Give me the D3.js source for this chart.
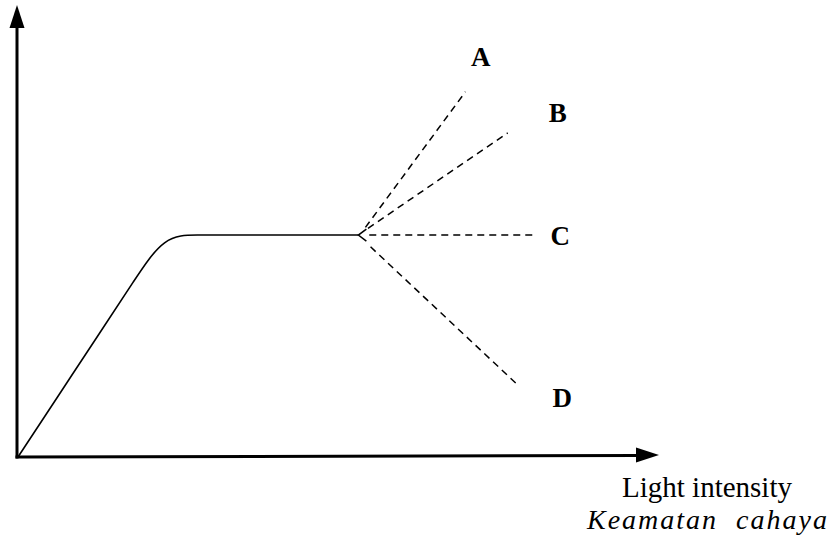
<!DOCTYPE html>
<html>
<head>
<meta charset="utf-8">
<script src="https://cdn.jsdelivr.net/npm/d3@7"></script>
<style>
  html, body { margin: 0; padding: 0; background: #fff; }
  svg { display: block; }
</style>
</head>
<body>
<svg id="chart"></svg>
<script>
// rate curve control points (light, rate) on a 0..100 scale
const curveLight = [0, 6, 13, 18, 22.8, 28, 33, 53.1];
const curveRate  = [0, 12.92, 28, 38.75, 49.1, 49.1, 49.1, 49.1];

// branches leaving the plateau end
const branchNames = ['A', 'B', 'C', 'D'];
const branchStartLight = [54.2, 54.6, 54.8, 55.0];
const branchStartRate  = [50.8, 50.6, 49.1, 46.5];
const branchEndLight   = [69.8, 76.4, 80.8, 78.0];
const branchEndRate    = [80.8, 71.7, 49.1, 15.9];
const labelLight = [72.2, 84.2, 84.6, 84.9];
const labelRate  = [86.5, 74.1, 46.9, 11.1];

const xTitle = 'Light intensity';
const xTitleMalay = 'Keamatan  cahaya';

const width = 839;
const height = 539;

const svg = d3.select('#chart')
  .attr('width', width)
  .attr('height', height);

const x = d3.scaleLinear().domain([0, 100]).range([18, 659]);
const y = d3.scaleLinear().domain([0, 100]).range([457, 5]);

// axes with filled arrowheads
svg.append('line')
  .attr('x1', x(0) - 1).attr('y1', y(0) + 1.5)
  .attr('x2', x(0) - 1).attr('y2', y(100) + 20)
  .attr('stroke', '#000').attr('stroke-width', 3);
svg.append('path')
  .attr('d', `M${x(0) - 1},${y(100)} L${x(0) - 8.5},${y(100) + 23} L${x(0) + 6.5},${y(100) + 23} Z`)
  .attr('fill', '#000');

svg.append('line')
  .attr('x1', x(0) - 2.5).attr('y1', y(0))
  .attr('x2', x(100) - 20).attr('y2', y(0) - 1.5)
  .attr('stroke', '#000').attr('stroke-width', 3);
svg.append('path')
  .attr('d', `M${x(100)},${y(0) - 2} L${x(100) - 23},${y(0) - 9.5} L${x(100) - 23},${y(0) + 5.5} Z`)
  .attr('fill', '#000');

// solid response curve (b-spline through the read corner points)
const pts = curveLight.map((d, i) => [d, curveRate[i]]);
const line = d3.line()
  .x(d => x(d[0]))
  .y(d => y(d[1]))
  .curve(d3.curveBasis);

svg.append('path')
  .datum(pts)
  .attr('d', line)
  .attr('fill', 'none')
  .attr('stroke', '#000')
  .attr('stroke-width', 1.6);

// small open arrowhead at plateau end
const ex = x(curveLight[curveLight.length - 1]);
const ey = y(curveRate[curveRate.length - 1]);
svg.append('path')
  .attr('d', `M${ex + 8},${ey - 6} L${ex},${ey} L${ex + 8},${ey + 6}`)
  .attr('fill', 'none')
  .attr('stroke', '#000')
  .attr('stroke-width', 1.5);

// dashed branches
branchNames.forEach((name, i) => {
  svg.append('line')
    .attr('x1', x(branchStartLight[i]))
    .attr('y1', y(branchStartRate[i]))
    .attr('x2', x(branchEndLight[i]))
    .attr('y2', y(branchEndRate[i]))
    .attr('stroke', '#000')
    .attr('stroke-width', 1.5)
    .attr('stroke-dasharray', '7,5');

  svg.append('text')
    .attr('x', x(labelLight[i]))
    .attr('y', y(labelRate[i]))
    .attr('text-anchor', 'middle')
    .style('font-family', '"Liberation Serif", "Times New Roman", serif')
    .style('font-weight', 'bold')
    .style('font-size', '27px')
    .text(name);
});

// axis title
svg.append('text')
  .attr('x', 707)
  .attr('y', 497)
  .attr('text-anchor', 'middle')
  .style('font-family', '"Liberation Serif", "Times New Roman", serif')
  .style('font-size', '29px')
  .text(xTitle);

svg.append('text')
  .attr('x', 708)
  .attr('y', 529)
  .attr('text-anchor', 'middle')
  .attr('xml:space', 'preserve')
  .style('font-family', '"Liberation Serif", "Times New Roman", serif')
  .style('font-style', 'italic')
  .style('font-size', '28px')
  .style('letter-spacing', '2px')
  .style('white-space', 'pre')
  .text(xTitleMalay);
</script>
</body>
</html>
